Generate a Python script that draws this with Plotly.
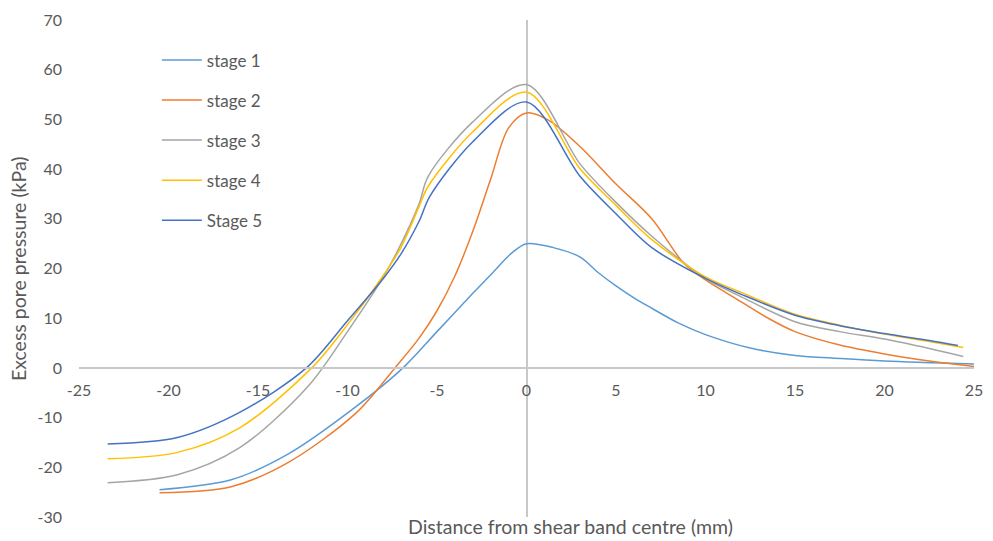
import plotly.graph_objects as go

names = ["stage 1", "stage 2", "stage 3", "stage 4", "Stage 5"]
colors = ["#5B9BD5", "#ED7D31", "#A5A5A5", "#FFC000", "#4472C4"]

x1 = [-20.5, -16.5, -13.3, -9.6, -6.9, -5, -3, -1.8, -0.8, 0, 1.5, 3, 4, 5, 6, 7, 8.5, 10, 12.5, 15, 17.5, 20, 25]
y1 = [-24.5, -22.5, -17.3, -8, 0, 7.3, 15, 19.5, 23.2, 25, 24.2, 22.3, 19.2, 16.5, 14.1, 12.0, 9.0, 6.7, 4.0, 2.5, 1.9, 1.4, 0.8]

x2 = [-20.5, -16.5, -13.3, -9.5, -7.35, -6, -5, -4, -3, -2, -1, 0, 1.2, 3, 5, 7, 8.8, 10, 12, 13.5, 15, 17.5, 20, 22.5, 25]
y2 = [-25.1, -23.9, -19, -9, 0, 6, 11.5, 18.5, 27.5, 38, 48.3, 51.3, 49.9, 44.5, 37, 30, 21, 17.7, 13.3, 10, 7.3, 4.6, 2.8, 1.4, 0.3]

x3 = [-23.4, -19.5, -16, -12.2, -10, -8, -7, -6, -5.5, -3, 0, 3, 5, 7, 10, 12, 15, 17.5, 20, 22.5, 24.4]
y3 = [-23.1, -21.5, -16, -3.7, 7.3, 18.3, 25, 33, 38.5, 49.5, 57, 41, 33.3, 26.5, 18, 14.3, 9.3, 7.3, 5.8, 3.9, 2.3]

x4 = [-23.4, -19.5, -16, -12, -10, -8, -7, -6, -5.5, -3, 0, 3, 5, 7, 10, 12, 15, 17.5, 20, 22.5, 24.4]
y4 = [-18.3, -17, -12, 0, 8.7, 18.6, 24.3, 32.5, 36.5, 47.5, 55.5, 40, 32.7, 25.8, 18.3, 15.2, 10.8, 8.6, 6.8, 5.3, 4.1]

x5 = [-23.4, -19.5, -16, -12.3, -10, -8, -7, -6, -5.4, -3, 0, 3, 5, 7, 10, 12, 15, 17.5, 20, 22.5, 24.1]
y5 = [-15.3, -14, -8.9, 0, 9.5, 18, 23, 29.5, 34.5, 45.5, 53.5, 38.5, 31, 24.2, 18, 14.8, 10.6, 8.5, 6.9, 5.5, 4.5]

xs = [x1, x2, x3, x4, x5]
ys = [y1, y2, y3, y4, y5]

x_ticks = [-25, -20, -15, -10, -5, 0, 5, 10, 15, 20, 25]
y_ticks = [-30, -20, -10, 0, 10, 20, 30, 40, 50, 60, 70]

FONT = "Lato"
TXT = "#595959"

fig = go.Figure()
for i in range(5):
    fig.add_trace(go.Scatter(
        x=xs[i], y=ys[i], name=names[i], mode="lines",
        line=dict(color=colors[i], width=1.5, shape="spline", smoothing=0.9),
        legendgroup=names[i],
    ))

fig.update_layout(
    width=993, height=541,
    margin=dict(l=79, r=10, t=17, b=24),
    paper_bgcolor="white", plot_bgcolor="white",
    font=dict(family=FONT, size=16, color=TXT),
    showlegend=True,
    legend=dict(x=0.087, y=0.955, xanchor="left", yanchor="top",
                bgcolor="rgba(0,0,0,0)", tracegroupgap=15,
                font=dict(family=FONT, size=17, color=TXT),
                itemwidth=40),
    xaxis=dict(range=[-25, 25], tickvals=x_ticks, ticktext=[str(v) for v in x_ticks],
               showgrid=False, zeroline=True, zerolinecolor="#C8C8C8", zerolinewidth=2,
               showline=True, linecolor="#C8C8C8", linewidth=2,
               anchor="free", position=0.3, ticks="", ticklabelstandoff=8,
               tickfont=dict(family=FONT, size=16, color=TXT)),
    yaxis=dict(range=[-30, 70], tickvals=y_ticks, ticktext=[str(v) for v in y_ticks],
               showgrid=False, zeroline=False, showline=False, ticks="",
               ticklabelstandoff=16,
               tickfont=dict(family=FONT, size=16, color=TXT)),
    annotations=[
        dict(text="Distance from shear band centre (mm)", xref="paper", yref="paper",
             x=0.549, y=-0.02, xanchor="center", yanchor="middle", showarrow=False,
             font=dict(family=FONT, size=19.5, color=TXT)),
        dict(text="Excess pore pressure (kPa)", xref="paper", yref="paper",
             x=-0.0675, y=0.5, xanchor="center", yanchor="middle", showarrow=False,
             textangle=-90, font=dict(family=FONT, size=19.5, color=TXT)),
    ],
)

fig.write_html("out.html")
